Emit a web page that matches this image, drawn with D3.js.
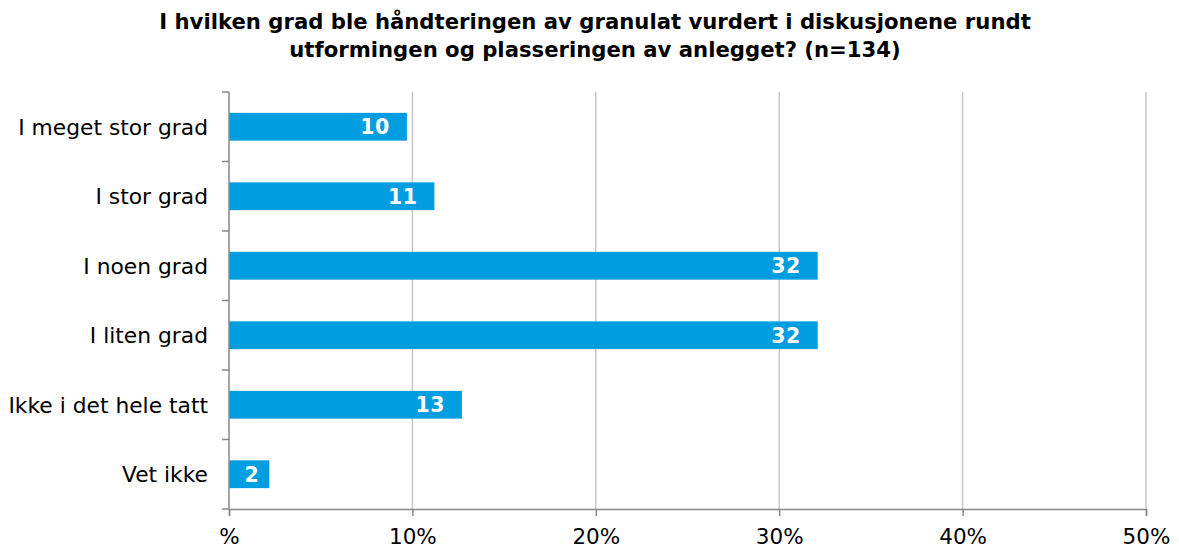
<!DOCTYPE html>
<html>
<head>
<meta charset="utf-8">
<script src="https://cdn.jsdelivr.net/npm/d3@7"></script>
<style>
  body { margin: 0; background: #fff; }
  svg { display: block; font-family: Verdana, "DejaVu Sans", sans-serif; }
</style>
</head>
<body>
<div id="chart"></div>
<script>
const categories = [
    'I meget stor grad',
    'I stor grad',
    'I noen grad',
    'I liten grad',
    'Ikke i det hele tatt',
    'Vet ikke'
];
const percents = [9.7, 11.2, 32.1, 32.1, 12.7, 2.2];
const valueLabels = ['10', '11', '32', '32', '13', '2'];
const tickValues = [0, 10, 20, 30, 40, 50];
const tickLabels = ['%', '10%', '20%', '30%', '40%', '50%'];
const titleLines = [
    'I hvilken grad ble håndteringen av granulat vurdert i diskusjonene rundt',
    'utformingen og plasseringen av anlegget? (n=134)'
];

const width = 1179;
const height = 549;
const margin = {top: 92, bottom: 40, left: 229, right: 33};

const svg = d3.select('#chart').append('svg')
    .attr('width', width)
    .attr('height', height);

// title
svg.append('g')
    .selectAll('text')
    .data(titleLines)
    .join('text')
        .attr('x', 595)
        .attr('y', (d, i) => 29 + i * 28)
        .attr('text-anchor', 'middle')
        .attr('font-size', 21.2)
        .attr('font-weight', 'bold')
        .attr('fill', '#000')
        .text(d => d);

const x = d3.scaleLinear()
    .domain([0, 50])
    .range([margin.left, width - margin.right]);

const y = d3.scaleBand()
    .domain(categories)
    .range([margin.top, height - margin.bottom])
    .paddingInner(0.6)
    .paddingOuter(0.3);

// gridlines
svg.append('g')
    .selectAll('line')
    .data(tickValues.slice(1))
    .join('line')
        .attr('x1', d => x(d))
        .attr('x2', d => x(d))
        .attr('y1', margin.top)
        .attr('y2', height - margin.bottom)
        .attr('stroke', '#c9c9c1')
        .attr('stroke-width', 1.5);

// bars
svg.append('g')
    .attr('fill', '#009ee0')
    .selectAll('rect')
    .data(percents)
    .join('rect')
        .attr('x', x(0))
        .attr('y', (d, i) => y(categories[i]))
        .attr('width', d => x(d) - x(0))
        .attr('height', y.bandwidth());

// value labels
svg.append('g')
    .selectAll('text')
    .data(percents)
    .join('text')
        .attr('x', d => (x(d) - x(0) < 60 ? x(d) - 10 : x(d) - 17))
        .attr('y', (d, i) => y(categories[i]) + y.bandwidth() / 2)
        .attr('dy', '0.36em')
        .attr('text-anchor', 'end')
        .attr('font-size', 20.5)
        .attr('font-weight', 'bold')
        .attr('letter-spacing', 0.5)
        .attr('fill', '#fff')
        .text((d, i) => valueLabels[i]);

// y axis
const step = y.step();
svg.append('g')
    .attr('transform', `translate(${margin.left}, 0)`)
    .call(g => {
        g.append('line')
            .attr('y1', margin.top)
            .attr('y2', height - margin.bottom)
            .attr('stroke', '#888')
            .attr('stroke-width', 1.5);
        g.selectAll('.tk')
            .data(d3.range(categories.length + 1))
            .join('line')
                .attr('class', 'tk')
                .attr('x1', -7)
                .attr('x2', 0)
                .attr('y1', i => margin.top + i * step)
                .attr('y2', i => margin.top + i * step)
                .attr('stroke', '#888')
                .attr('stroke-width', 1.5);
        g.selectAll('text')
            .data(categories)
            .join('text')
                .attr('x', -21)
                .attr('y', d => y(d) + y.bandwidth() / 2)
                .attr('dy', '0.36em')
                .attr('text-anchor', 'end')
                .attr('font-size', 21.8)
                .attr('fill', '#000')
                .text(d => d);
    });

// x axis
svg.append('g')
    .attr('transform', `translate(0, ${height - margin.bottom})`)
    .call(d3.axisBottom(x).tickValues(tickValues).tickSize(7).tickFormat((d, i) => tickLabels[i]))
    .call(g => g.select('.domain').attr('stroke', '#888').attr('stroke-width', 1.5))
    .call(g => g.selectAll('.tick line').attr('stroke', '#888').attr('stroke-width', 1.5))
    .call(g => g.selectAll('.tick text')
        .attr('font-size', 21.5)
        .attr('font-family', 'Verdana, "DejaVu Sans", sans-serif')
        .attr('fill', '#000')
        .attr('y', 35)
        .attr('dy', 0));
</script>
</body>
</html>
